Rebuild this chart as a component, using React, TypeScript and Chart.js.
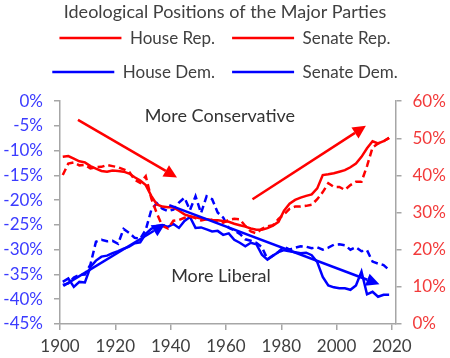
import React, { useEffect, useRef } from 'react';
import { Chart, registerables } from 'chart.js';
Chart.register(...registerables);

const FONT = 'Lato, "Open Sans", sans-serif';

const chartTitle = 'Ideological Positions of the Major Parties';
const seriesNames = ['House Rep.', 'Senate Rep.', 'House Dem.', 'Senate Dem.'];

const years = [
  1901, 1903, 1905, 1907, 1909, 1911, 1913, 1915, 1917, 1919,
  1921, 1923, 1925, 1927, 1929, 1931, 1933, 1935, 1937, 1939,
  1941, 1943, 1945, 1947, 1949, 1951, 1953, 1955, 1957, 1959,
  1961, 1963, 1965, 1967, 1969, 1971, 1973, 1975, 1977, 1979,
  1981, 1983, 1985, 1987, 1989, 1991, 1993, 1995, 1997, 1999,
  2001, 2003, 2005, 2007, 2009, 2011, 2013, 2015, 2017, 2019,
];

// right axis (%)
const houseRep = [
  45.0, 45.2, 44.5, 43.8, 43.5, 42.5, 41.8, 41.2, 41.0, 41.3,
  41.2, 41.0, 40.5, 39.5, 38.6, 37.4, 34.5, 32.2, 31.6, 31.4,
  31.4, 30.5, 29.5, 29.0, 28.7, 28.4, 28.2, 28.0, 27.9, 27.7,
  27.5, 27.0, 26.6, 26.2, 25.7, 25.4, 25.4, 25.8, 26.5, 27.5,
  30.5, 32.4, 33.4, 34.0, 34.5, 34.9, 36.5, 40.1, 40.3, 40.6,
  41.0, 41.4, 42.2, 43.2, 45.0, 47.3, 49.2, 48.6, 49.2, 50.1,
];
const senateRep = [
  40.1, 43.2, 43.5, 42.7, 42.8, 41.9, 42.2, 42.3, 42.8, 42.5,
  42.2, 41.6, 41.0, 38.8, 38.0, 39.8, 33.8, 29.8, 26.4, 25.7,
  27.8, 28.0, 28.6, 28.9, 28.5, 27.9, 28.2, 28.0, 27.6, 27.3,
  28.0, 28.3, 28.2, 26.4, 24.9, 24.4, 25.6, 26.3, 26.6, 28.3,
  29.5, 31.0, 31.6, 31.6, 31.8, 32.1, 33.6, 35.5, 37.9, 36.9,
  36.9, 36.1, 37.4, 38.3, 38.3, 42.5, 47.5, 48.6, 49.2, 50.1,
];
// left axis (%)
const houseDem = [
  -36.5, -35.8, -37.5, -36.5, -36.6, -33.5, -32.2, -31.4, -31.2, -30.7,
  -30.3, -29.8, -29.4, -28.7, -28.5, -26.8, -25.8, -25.2, -25.0, -25.4,
  -24.8, -25.6, -24.2, -23.4, -25.6, -25.5, -25.9, -26.3, -26.2, -27.0,
  -26.7, -28.0, -28.6, -29.3, -28.6, -28.9, -31.0, -32.0, -31.2, -30.5,
  -30.1, -30.3, -30.5, -30.7, -30.6, -31.1, -32.5, -35.5, -37.2, -37.6,
  -37.8, -37.8, -38.1, -37.2, -34.4, -39.0, -38.5, -39.5, -39.1, -39.1,
];
const senateDem = [
  -37.1, -36.8, -35.6, -35.1, -35.0, -33.0, -28.4, -28.0, -28.3, -28.2,
  -28.8, -25.8, -26.6, -27.6, -27.8, -26.0, -22.0, -20.6, -21.7, -22.2,
  -21.9, -20.5, -19.5, -22.0, -19.2, -22.6, -19.2, -19.8, -22.5, -23.5,
  -25.6, -26.1, -26.8, -27.9, -28.2, -28.6, -29.5, -31.9, -31.2, -30.4,
  -29.4, -30.0, -29.6, -29.3, -29.4, -29.7, -29.5, -30.0, -29.6, -29.0,
  -28.9, -29.1, -30.0, -29.5, -30.3, -30.1, -32.4, -32.8, -33.1, -34.1,
];

// annotation arrows in data coordinates [year, left-axis %]
const arrowStarts = [[1906.5, -3.8], [1969.6, -19.8], [1901.2, -37.3], [1939.5, -21.0]];
const arrowEnds = [[1942.3, -15.4], [2010.6, -5.0], [1938.0, -24.8], [2015.5, -37.0]];
const arrowColors = ['#FF0000', '#FF0000', '#0000FF', '#0000FF'];

const noteTexts = ['More Conservative', 'More Liberal'];
const notePositions = [[1957.8, -3.0], [1958.2, -35.3]];

const RED = '#FF0000';
const BLUE = '#0000FF';

const pts = (vals: number[]) => vals.map((v, i) => ({ x: years[i], y: v }));

const annotationPlugin = {
  id: 'notes',
  afterDatasetsDraw(chart: any) {
    const { ctx } = chart;
    const xs = chart.scales.x;
    const ys = chart.scales.yL;
    ctx.save();
    arrowStarts.forEach((s, i) => {
      const e = arrowEnds[i];
      const x0 = xs.getPixelForValue(s[0]);
      const y0 = ys.getPixelForValue(s[1]);
      const x1 = xs.getPixelForValue(e[0]);
      const y1 = ys.getPixelForValue(e[1]);
      const ang = Math.atan2(y1 - y0, x1 - x0);
      const hl = 13;
      const hw = 6.5;
      const bx = x1 - hl * Math.cos(ang);
      const by = y1 - hl * Math.sin(ang);
      ctx.strokeStyle = arrowColors[i];
      ctx.fillStyle = arrowColors[i];
      ctx.lineWidth = 2.5;
      ctx.setLineDash([]);
      ctx.beginPath();
      ctx.moveTo(x0, y0);
      ctx.lineTo(bx, by);
      ctx.stroke();
      ctx.beginPath();
      ctx.moveTo(x1, y1);
      ctx.lineTo(bx + hw * Math.sin(ang), by - hw * Math.cos(ang));
      ctx.lineTo(bx - hw * Math.sin(ang), by + hw * Math.cos(ang));
      ctx.closePath();
      ctx.fill();
    });
    ctx.fillStyle = '#333333';
    ctx.font = `18px ${FONT}`;
    ctx.textAlign = 'center';
    ctx.textBaseline = 'middle';
    noteTexts.forEach((t, i) => {
      const p = notePositions[i];
      ctx.fillText(t, xs.getPixelForValue(p[0]), ys.getPixelForValue(p[1]));
    });
    ctx.restore();
  },
};

const legendSpacer = {
  id: 'legendSpacer',
  beforeLayout(chart: any) {
    const lg = chart.legend;
    if (lg && !lg._spaced) {
      const orig = lg.fit;
      lg.fit = function () {
        orig.call(this);
        this.height += 10.5;
      };
      lg._spaced = true;
    }
  },
};

export default function App() {
  const ref = useRef<HTMLCanvasElement>(null);
  useEffect(() => {
    if (!ref.current) return;
    const axisGray = '#A6A6A6';
    const chart = new Chart(ref.current, {
      type: 'line',
      data: {
        datasets: [
          { label: seriesNames[0], data: pts(houseRep), yAxisID: 'yR', borderColor: RED, backgroundColor: RED, borderWidth: 2.5 },
          { label: seriesNames[1], data: pts(senateRep), yAxisID: 'yR', borderColor: RED, backgroundColor: RED, borderWidth: 2.5, borderDash: [7, 4] },
          { label: seriesNames[2], data: pts(houseDem), yAxisID: 'yL', borderColor: BLUE, backgroundColor: BLUE, borderWidth: 2.5 },
          { label: seriesNames[3], data: pts(senateDem), yAxisID: 'yL', borderColor: BLUE, backgroundColor: BLUE, borderWidth: 2.5, borderDash: [7, 4] },
        ],
      },
      options: {
        responsive: false,
        animation: false,
        devicePixelRatio: 1,
        layout: { padding: 0 },
        elements: { point: { radius: 0, hoverRadius: 0 }, line: { tension: 0 } },
        plugins: {
          tooltip: { enabled: false },
          title: {
            display: true,
            text: chartTitle,
            color: '#404040',
            font: { family: FONT, size: 18, weight: 'normal' },
            padding: { top: 1, bottom: -10 },
          },
          legend: {
            display: true,
            position: 'top',
            labels: {
              usePointStyle: true,
              pointStyle: 'line',
              pointStyleWidth: 62,
              boxHeight: 17,
              color: '#404040',
              font: { family: FONT, size: 17 },
              padding: 17,
            },
          },
        },
        scales: {
          x: {
            type: 'linear',
            min: 1900,
            max: 2021.3,
            afterFit: (s: any) => { s.height = 34; },
            afterBuildTicks: (s: any) => { s.ticks = s.ticks.filter((t: any) => t.value % 20 === 0); },
            ticks: {
              stepSize: 20,
              includeBounds: false,
              color: '#404040',
              font: { family: FONT, size: 17 },
              padding: 6,
              maxRotation: 0,
              callback: (v: any) => String(v),
            },
            grid: { drawOnChartArea: false, color: axisGray, tickLength: 6, lineWidth: 1.5 },
            border: { color: axisGray, width: 1.5 },
          },
          yL: {
            type: 'linear',
            position: 'left',
            min: -45,
            max: 0,
            afterFit: (s: any) => { s.width = 60; },
            ticks: {
              stepSize: 5,
              color: '#3B3BFF',
              font: { family: FONT, size: 17 },
              padding: 11,
              callback: (v: any) => `${v}%`,
            },
            grid: { drawOnChartArea: false, color: axisGray, tickLength: 6, lineWidth: 1.5 },
            border: { color: axisGray, width: 1.5 },
          },
          yR: {
            type: 'linear',
            position: 'right',
            min: 0,
            max: 60,
            afterFit: (s: any) => { s.width = 54.5; },
            ticks: {
              stepSize: 10,
              color: '#F23A3A',
              font: { family: FONT, size: 17 },
              padding: 11,
              callback: (v: any) => `${v}%`,
            },
            grid: { drawOnChartArea: false, color: axisGray, tickLength: 6, lineWidth: 1.5 },
            border: { color: axisGray, width: 1.5 },
          },
        },
      },
      plugins: [annotationPlugin, legendSpacer],
    } as any);
    return () => chart.destroy();
  }, []);
  return (
    <div style={{ position: 'fixed', left: 0, top: 0, width: 450, height: 358, background: '#fff' }}>
      <canvas ref={ref} width={450} height={358} />
    </div>
  );
}
